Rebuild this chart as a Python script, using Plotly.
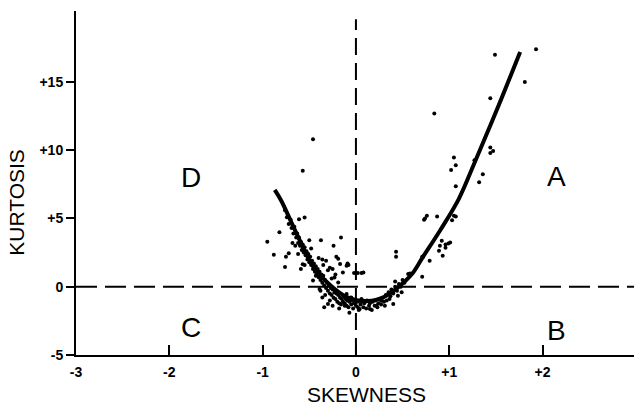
import plotly.graph_objects as go

# Fitted curve
curve_skew = [-0.87, -0.80, -0.65, -0.45, -0.28, -0.09, 0.13, 0.30, 0.45, 0.60, 0.71, 0.90, 1.10, 1.26, 1.50, 1.76]
curve_kurt = [7.1, 6.3, 4.1, 1.4, 0.15, -0.78, -1.05, -0.75, -0.05, 0.93, 2.1, 4.1, 6.4, 8.9, 12.8, 17.2]

# Scattered points away from the curve
out_skew = [-0.46, -0.57, -0.61, -0.55, -0.82, -0.95, -0.88, -0.76, -0.72, -0.75, -0.65, -0.50, -0.375, -0.16,
            -0.24, -0.59, -0.57, -0.46, -0.43, -0.36, -0.32, -0.28, -0.25, -0.21, -0.19, -0.17, -0.14, -0.09,
            -0.23, -0.19, -0.10, -0.08, 0.08, -0.39, -0.36, -0.30, -0.34, -0.18, -0.12, -0.07, 0.04, 0.02,
            0.15, 0.22, 0.31, 0.40, 0.27, 0.36, 0.45, 0.49, 0.42, 0.56, 0.58, 0.71, 0.43, 0.43, 0.71, 0.79,
            0.72, 0.92, 0.90, 0.96, 0.93, 0.99, 0.96, 0.89, 1.01, 0.74, 0.73, 0.76, 0.87, 1.03, 1.05, 1.07,
            1.07, 1.32, 1.36, 1.02, 1.07, 1.05, 1.27, 1.44, 1.44, 1.47, 0.84, 1.44, 1.81, 1.49, 1.93,
            -0.02, 0.02, 0.06]
out_kurt = [10.8, 8.5, 4.95, 5.07, 4.0, 3.3, 2.35, 1.45, 2.45, 2.2, 3.0, 3.4, 3.4, 3.6,
            3.0, 1.3, 1.65, 0.45, 0.8, 2.0, 1.9, 1.4, 1.3, 2.2, 2.05, 1.66, 1.05, 1.7,
            0.68, 0.31, 1.54, 1.6, 1.05, -0.17, -0.78, -1.27, -1.5, -1.6, -1.4, -1.9, -1.63, -1.51,
            -1.63, -1.39, -1.39, -1.27, -1.02, -0.9, -0.66, -0.41, 0.38, 0.93, 0.97, 0.73, 2.56, 2.2, 2.2, 1.9,
            2.2, 3.37, 3.0, 3.1, 2.27, 3.17, 2.85, 2.63, 3.24, 5.0, 4.9, 5.2, 5.15, 4.88, 5.2, 5.15,
            7.37, 7.66, 8.24, 8.56, 8.9, 9.46, 9.27, 9.8, 10.2, 9.95, 12.7, 13.8, 15.0, 17.0, 17.4,
            1.0, 1.0, 1.0]

# Dense band of points along the curve
band_skew = [-0.76, -0.74, -0.72, -0.70, -0.69, -0.67, -0.66, -0.64, -0.63, -0.62, -0.61, -0.60, -0.59, -0.58,
             -0.57, -0.56, -0.55, -0.54, -0.53, -0.52, -0.51, -0.50, -0.49, -0.48, -0.47, -0.46, -0.45, -0.44,
             -0.43, -0.42, -0.41, -0.40, -0.39, -0.38, -0.37, -0.36, -0.35, -0.34, -0.33, -0.32, -0.31, -0.30,
             -0.29, -0.28, -0.27, -0.26, -0.25, -0.24, -0.23, -0.22, -0.21, -0.20, -0.19, -0.18, -0.17, -0.16,
             -0.15, -0.14, -0.13, -0.12, -0.11, -0.10, -0.09, -0.08, -0.07, -0.06, -0.05, -0.04, -0.03, -0.02,
             0.00, 0.02, 0.03, 0.05, 0.06, 0.08, 0.09, 0.11, 0.12, 0.14, 0.15, 0.17, 0.18, 0.20, 0.21, 0.23,
             0.24, 0.26, 0.27, 0.29, 0.30, 0.32, 0.33, 0.35, 0.37, 0.38, 0.40, 0.42, 0.44, 0.46, 0.48, 0.50,
             0.52, -0.68, -0.62, -0.55, -0.48, -0.40, -0.35, -0.30, -0.26, -0.22, -0.33, -0.28, -0.38, -0.25,
             -0.05, -0.10, 0.00]
band_kurt = [5.6, 5.1, 4.6, 4.9, 4.3, 3.9, 4.4, 3.6, 3.9, 3.2, 3.6, 3.0, 3.3, 2.7,
             3.1, 2.5, 2.9, 2.3, 2.6, 2.0, 2.4, 1.8, 2.2, 1.6, 1.9, 1.3, 1.7, 1.1,
             1.5, 0.9, 1.3, 0.7, 1.1, 0.5, 0.9, 0.3, 0.8, 0.1, 0.5, -0.1, 0.3, -0.3,
             0.1, -0.5, -0.1, -0.6, -0.2, -0.8, -0.4, -0.9, -0.5, -1.1, -0.6, -1.2, -0.8, -1.3,
             -0.9, -1.1, -0.7, -1.2, -0.9, -1.4, -1.0, -1.5, -1.1, -0.8, -1.3, -1.0, -1.6, -1.2,
             -1.4, -1.1, -1.7, -1.3, -0.9, -1.5, -1.2, -1.6, -1.0, -1.4, -1.2, -1.7, -1.1, -1.4, -1.0, -1.5,
             -1.2, -0.9, -1.3, -0.8, -1.1, -0.6, -1.0, -0.4, -0.7, -0.2, -0.5, 0.0, -0.3, 0.2, 0.0, 0.5,
             0.3, 3.2, 2.4, 1.6, 2.8, 2.1, 1.6, 1.2, 0.6, 0.9, -0.6, -1.0, -0.3, -1.4,
             -0.78, -0.53, -1.02]

# Axis ticks
x_ticks = [-3, -2, -1, 0, 1, 2]
x_tick_text = ["-3", "-2", "-1", "0", "+1", "+2"]
y_ticks = [-5, 0, 5, 10, 15]
y_tick_text = ["-5", "0", "+5", "+10", "+15"]

# Quadrant labels
quad_text = ["A", "B", "C", "D"]
quad_skew = [2.15, 2.15, -1.77, -1.77]
quad_kurt = [8.1, -3.2, -3.0, 8.0]

X_RANGE = [-3, 2.98]
Y_RANGE = [-5, 20.2]
FONT = "Liberation Sans, Arial, Helvetica"

fig = go.Figure()

# dashed reference lines
fig.add_trace(go.Scatter(x=[X_RANGE[0], X_RANGE[1]], y=[0, 0], mode="lines",
                         line=dict(color="black", width=2, dash="21px,8px"), hoverinfo="skip"))
fig.add_trace(go.Scatter(x=[0, 0], y=[Y_RANGE[0], 19.6], mode="lines",
                         line=dict(color="black", width=2, dash="17px,8px"), hoverinfo="skip"))

fig.add_trace(go.Scatter(x=band_skew, y=band_kurt, mode="markers",
                         marker=dict(color="black", size=4)))
fig.add_trace(go.Scatter(x=out_skew, y=out_kurt, mode="markers",
                         marker=dict(color="black", size=4)))
fig.add_trace(go.Scatter(x=curve_skew, y=curve_kurt, mode="lines",
                         line=dict(color="black", width=4, shape="spline", smoothing=1.0)))

for t, xs, ys in zip(quad_text, quad_skew, quad_kurt):
    fig.add_annotation(x=xs, y=ys, text=t, showarrow=False,
                       font=dict(size=28, color="black", family=FONT))

fig.add_annotation(xref="paper", yref="paper", x=-0.106, y=0.445, text="KURTOSIS", textangle=-90,
                   xanchor="center", yanchor="middle",
                   showarrow=False, font=dict(size=21, color="black", family=FONT))
fig.add_annotation(xref="paper", yref="paper", x=0.521, y=-0.114, text="SKEWNESS",
                   showarrow=False, xanchor="center", yanchor="middle",
                   font=dict(size=21, color="black", family=FONT))

fig.update_layout(
    width=634, height=406,
    margin=dict(l=76, r=0, t=11, b=51),
    plot_bgcolor="white", paper_bgcolor="white",
    showlegend=False,
    font=dict(family=FONT, color="black", size=14),
    xaxis=dict(range=X_RANGE, showgrid=False, zeroline=False, showline=True, linecolor="black",
               linewidth=2, ticks="inside", ticklen=10, tickwidth=2, tickcolor="black",
               tickvals=x_ticks, ticktext=x_tick_text, ticklabelstandoff=3,
               tickfont=dict(size=14, weight="bold")),
    yaxis=dict(range=Y_RANGE, showgrid=False, zeroline=False, showline=True, linecolor="black",
               linewidth=2, ticks="outside", ticklen=8, tickwidth=2, tickcolor="black",
               tickvals=y_ticks, ticktext=y_tick_text, ticklabelstandoff=0,
               tickfont=dict(size=14, weight="bold")),
)

fig.write_html("out.html")
